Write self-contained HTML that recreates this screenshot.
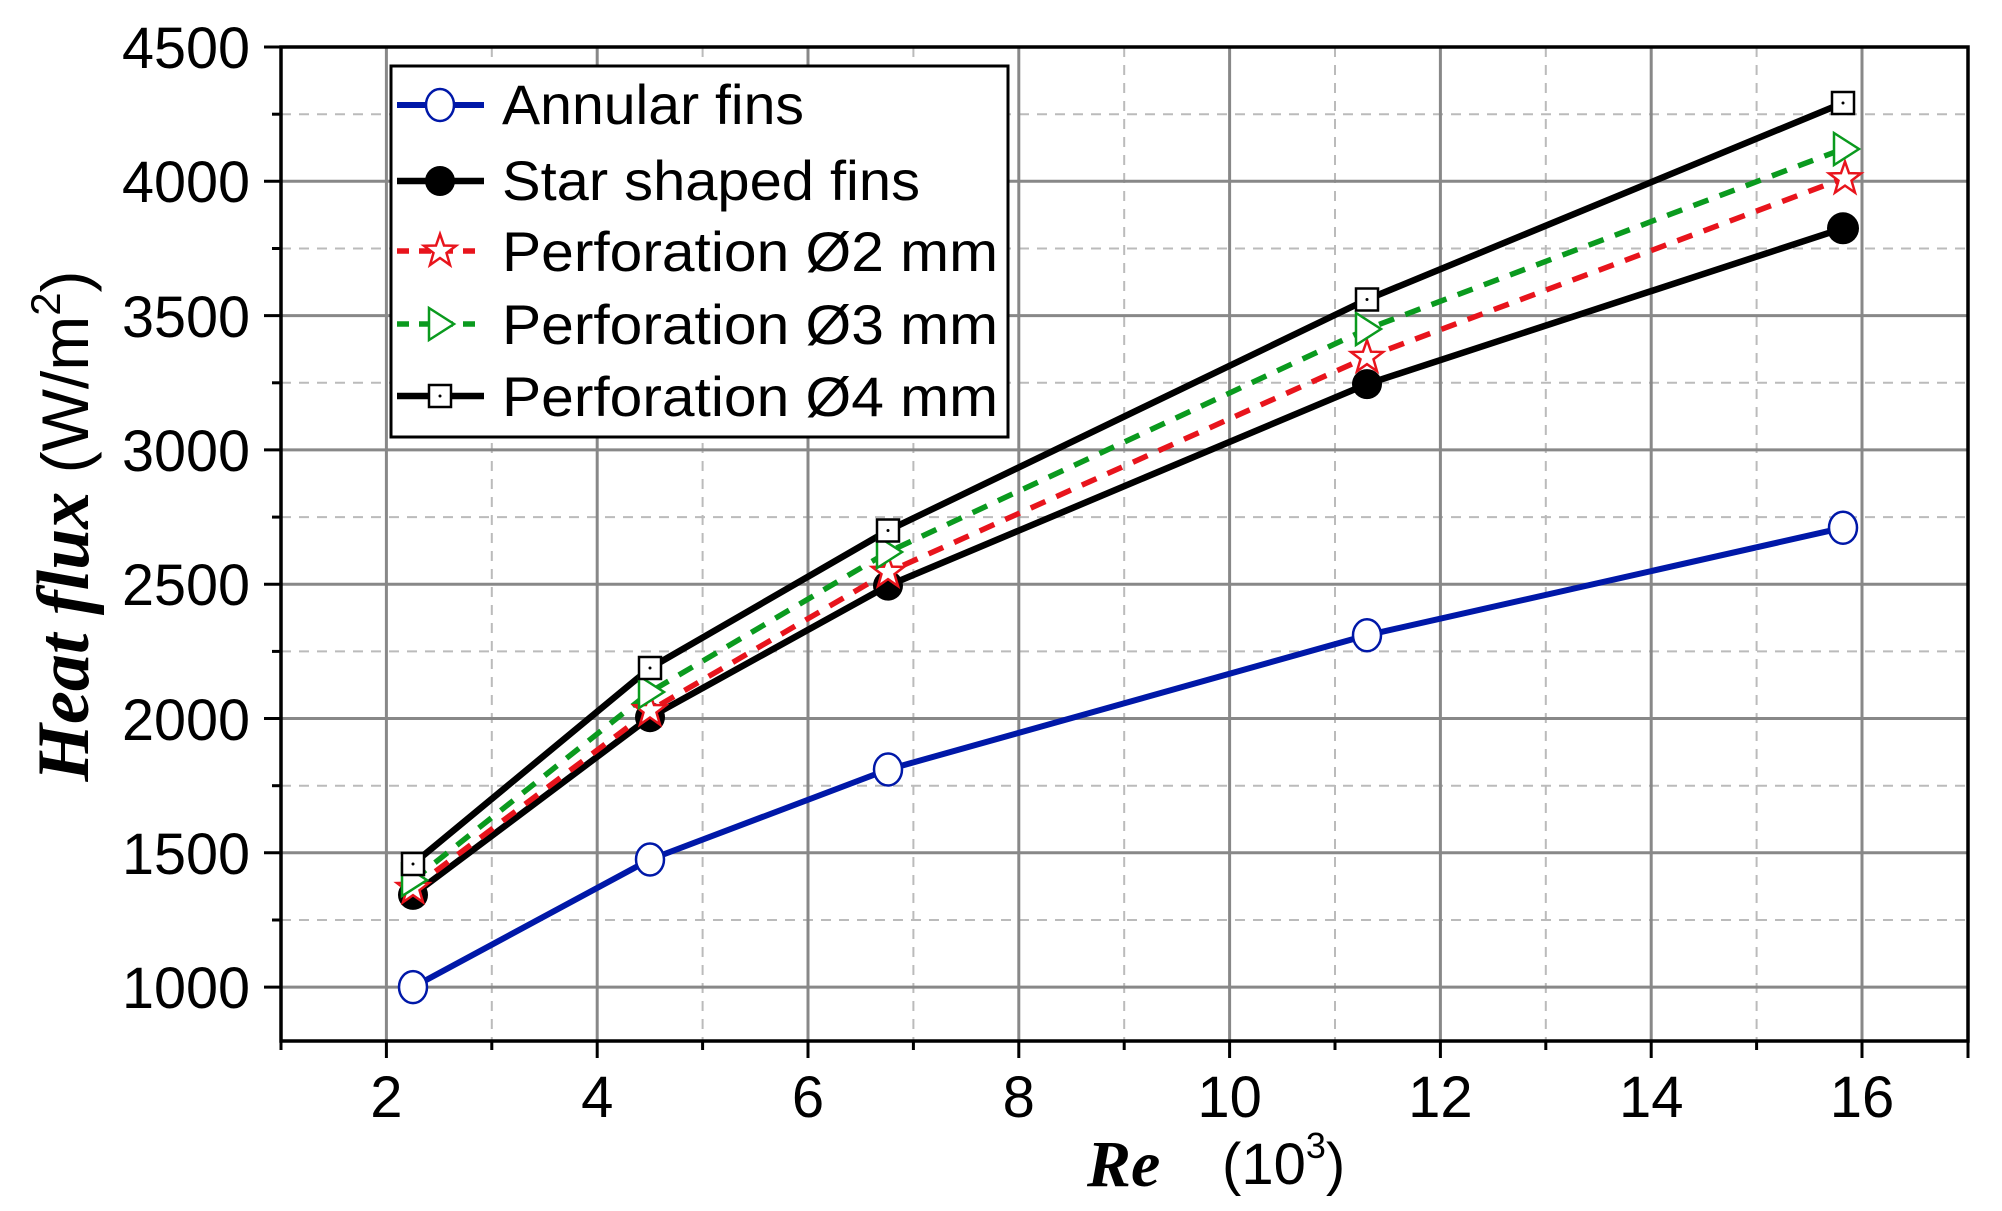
<!DOCTYPE html>
<html><head><meta charset="utf-8"><style>html,body{margin:0;padding:0;background:#fff}svg{display:block}</style></head><body>
<svg width="2002" height="1211" viewBox="0 0 2002 1211" xmlns="http://www.w3.org/2000/svg">
<defs><clipPath id="c"><rect x="281" y="47" width="1687" height="994"/></clipPath></defs>
<g id="grid">
<g stroke="#bbb" stroke-width="2" stroke-dasharray="10,8">
<line x1="491.8" y1="47" x2="491.8" y2="1041"/><line x1="702.6" y1="47" x2="702.6" y2="1041"/><line x1="913.4" y1="47" x2="913.4" y2="1041"/><line x1="1124.2" y1="47" x2="1124.2" y2="1041"/><line x1="1335" y1="47" x2="1335" y2="1041"/><line x1="1545.8" y1="47" x2="1545.8" y2="1041"/><line x1="1756.6" y1="47" x2="1756.6" y2="1041"/>
<line x1="281" y1="114.2" x2="1968" y2="114.2"/><line x1="281" y1="248.5" x2="1968" y2="248.5"/><line x1="281" y1="382.8" x2="1968" y2="382.8"/><line x1="281" y1="517.1" x2="1968" y2="517.1"/><line x1="281" y1="651.4" x2="1968" y2="651.4"/><line x1="281" y1="785.7" x2="1968" y2="785.7"/><line x1="281" y1="920" x2="1968" y2="920"/>
</g>
<g stroke="#888" stroke-width="3">
<line x1="386.4" y1="47" x2="386.4" y2="1041"/><line x1="597.2" y1="47" x2="597.2" y2="1041"/><line x1="808" y1="47" x2="808" y2="1041"/><line x1="1018.8" y1="47" x2="1018.8" y2="1041"/><line x1="1229.6" y1="47" x2="1229.6" y2="1041"/><line x1="1440.4" y1="47" x2="1440.4" y2="1041"/><line x1="1651.2" y1="47" x2="1651.2" y2="1041"/><line x1="1862" y1="47" x2="1862" y2="1041"/>
<line x1="281" y1="181.3" x2="1968" y2="181.3"/><line x1="281" y1="315.6" x2="1968" y2="315.6"/><line x1="281" y1="449.9" x2="1968" y2="449.9"/><line x1="281" y1="584.2" x2="1968" y2="584.2"/><line x1="281" y1="718.5" x2="1968" y2="718.5"/><line x1="281" y1="852.8" x2="1968" y2="852.8"/><line x1="281" y1="987.1" x2="1968" y2="987.1"/>
</g>
</g>
<rect x="281" y="47" width="1687" height="994" fill="none" stroke="#000" stroke-width="3.5"/>
<g stroke="#000" stroke-width="3">
<line x1="386.4" y1="1041" x2="386.4" y2="1058"/><line x1="597.2" y1="1041" x2="597.2" y2="1058"/><line x1="808" y1="1041" x2="808" y2="1058"/><line x1="1018.8" y1="1041" x2="1018.8" y2="1058"/><line x1="1229.6" y1="1041" x2="1229.6" y2="1058"/><line x1="1440.4" y1="1041" x2="1440.4" y2="1058"/><line x1="1651.2" y1="1041" x2="1651.2" y2="1058"/><line x1="1862" y1="1041" x2="1862" y2="1058"/><line x1="1968" y1="1041" x2="1968" y2="1058"/>
<line x1="491.8" y1="1041" x2="491.8" y2="1050"/><line x1="702.6" y1="1041" x2="702.6" y2="1050"/><line x1="913.4" y1="1041" x2="913.4" y2="1050"/><line x1="1124.2" y1="1041" x2="1124.2" y2="1050"/><line x1="1335" y1="1041" x2="1335" y2="1050"/><line x1="1545.8" y1="1041" x2="1545.8" y2="1050"/><line x1="1756.6" y1="1041" x2="1756.6" y2="1050"/><line x1="281" y1="1041" x2="281" y2="1050"/>
<line x1="264" y1="47" x2="281" y2="47"/><line x1="264" y1="181.3" x2="281" y2="181.3"/><line x1="264" y1="315.6" x2="281" y2="315.6"/><line x1="264" y1="449.9" x2="281" y2="449.9"/><line x1="264" y1="584.2" x2="281" y2="584.2"/><line x1="264" y1="718.5" x2="281" y2="718.5"/><line x1="264" y1="852.8" x2="281" y2="852.8"/><line x1="264" y1="987.1" x2="281" y2="987.1"/>
<line x1="272" y1="114.2" x2="281" y2="114.2"/><line x1="272" y1="248.5" x2="281" y2="248.5"/><line x1="272" y1="382.8" x2="281" y2="382.8"/><line x1="272" y1="517.1" x2="281" y2="517.1"/><line x1="272" y1="651.4" x2="281" y2="651.4"/><line x1="272" y1="785.7" x2="281" y2="785.7"/><line x1="272" y1="920" x2="281" y2="920"/>
</g>
<g font-family="Liberation Sans, sans-serif" font-size="58" fill="#000">
<text x="122" y="68" textLength="128" lengthAdjust="spacingAndGlyphs">4500</text><text x="122" y="202" textLength="128" lengthAdjust="spacingAndGlyphs">4000</text><text x="122" y="337" textLength="128" lengthAdjust="spacingAndGlyphs">3500</text><text x="122" y="471" textLength="128" lengthAdjust="spacingAndGlyphs">3000</text><text x="122" y="605" textLength="128" lengthAdjust="spacingAndGlyphs">2500</text><text x="122" y="740" textLength="128" lengthAdjust="spacingAndGlyphs">2000</text><text x="122" y="874" textLength="128" lengthAdjust="spacingAndGlyphs">1500</text><text x="122" y="1008" textLength="128" lengthAdjust="spacingAndGlyphs">1000</text>
</g>
<g font-family="Liberation Sans, sans-serif" font-size="58" fill="#000" text-anchor="middle">
<text x="386.4" y="1117">2</text><text x="597.2" y="1117">4</text><text x="808" y="1117">6</text><text x="1018.8" y="1117">8</text><text x="1229.6" y="1117">10</text><text x="1440.4" y="1117">12</text><text x="1651.2" y="1117">14</text><text x="1862" y="1117">16</text>
</g>
<text x="1087" y="1186" font-family="Liberation Serif, serif" font-weight="bold" font-style="italic" font-size="66">Re</text>
<text x="1222" y="1184" font-family="Liberation Sans, sans-serif" font-size="58">(10<tspan font-size="36" dy="-26">3</tspan><tspan dy="26">)</tspan></text>
<g transform="translate(88,526) rotate(-90)">
<text x="0" y="0" text-anchor="middle"><tspan font-family="Liberation Serif, serif" font-weight="bold" font-style="italic" font-size="74">Heat flux</tspan><tspan font-family="Liberation Sans, sans-serif" font-size="66"> (W/m<tspan font-size="42" dy="-28">2</tspan><tspan dy="28">)</tspan></tspan></text>
</g>
<g clip-path="url(#c)" fill="none" stroke-linejoin="round">
<polyline stroke="#0018a8" stroke-width="6" points="413,987.1 650,859.5 888,769.5 1367,635.2 1843,527.8"/>
<polyline stroke="#000" stroke-width="6.5" points="413,894.9 650,717.2 888,585.6 1367,384.1 1843,228.3"/>
<polyline stroke="#e8141c" stroke-width="5.5" stroke-dasharray="16,12" points="413,888.2 650,710.5 888,572.1 1367,357.2 1843,178.6"/>
<polyline stroke="#0a9a1e" stroke-width="5.5" stroke-dasharray="16,12" points="413,880.1 650,692 888,552 1367,329 1843,149"/>
<polyline stroke="#000" stroke-width="6.5" points="413,864 650,668 888,530.5 1367,299.5 1843,103"/>
</g>
<g fill="#fff" stroke="#0018a8" stroke-width="2.5">
<ellipse cx="413" cy="987.1" rx="14" ry="16"/><ellipse cx="650" cy="859.5" rx="14" ry="16"/><ellipse cx="888" cy="769.5" rx="14" ry="16"/><ellipse cx="1367" cy="635.2" rx="14" ry="16"/><ellipse cx="1843" cy="527.8" rx="14" ry="16"/>
</g>
<g fill="#000">
<circle cx="413" cy="894.9" r="15"/><circle cx="650" cy="717.2" r="15"/><circle cx="888" cy="585.6" r="15"/><circle cx="1367" cy="384.1" r="15"/><circle cx="1843" cy="228.3" r="16"/>
</g>
<defs>
<polygon id="star" points="0,-17 4,-5.5 16,-5.2 6.5,2 10,14 0,7 -10,14 -6.5,2 -16,-5.2 -4,-5.5" fill="#fff" stroke="#e8141c" stroke-width="2.5"/>
<polygon id="tri" points="-11,-16 14,0 -11,16" fill="#fff" stroke="#0a9a1e" stroke-width="2.5"/>
<g id="sq"><rect x="-11" y="-11" width="22" height="22" fill="#fff" stroke="#000" stroke-width="2.5"/><circle r="1.5" fill="#000"/></g>
</defs>
<use href="#star" x="413" y="888.2"/><use href="#star" x="650" y="710.5"/><use href="#star" x="888" y="572.1"/><use href="#star" x="1367" y="357.2"/><use href="#star" x="1845" y="178.6"/>
<use href="#tri" x="413" y="880.1"/><use href="#tri" x="650" y="692"/><use href="#tri" x="888" y="552"/><use href="#tri" x="1367" y="329"/><use href="#tri" x="1845" y="149"/>
<use href="#sq" x="413" y="864"/><use href="#sq" x="650" y="668"/><use href="#sq" x="888" y="530.5"/><use href="#sq" x="1367" y="299.5"/><use href="#sq" x="1843" y="103"/>
<rect x="391" y="66" width="617" height="371" fill="#fff" stroke="#000" stroke-width="3"/>
<line x1="397" y1="105" x2="484" y2="105" stroke="#0018a8" stroke-width="6"/><ellipse cx="440" cy="105" rx="14" ry="16" fill="#fff" stroke="#0018a8" stroke-width="2.5"/>
<line x1="397" y1="181" x2="484" y2="181" stroke="#000" stroke-width="6.5"/><circle cx="440" cy="181" r="15"/>
<line x1="397" y1="251" x2="484" y2="251" stroke="#e8141c" stroke-width="5.5" stroke-dasharray="12,10"/><use href="#star" x="440" y="251"/>
<line x1="397" y1="324" x2="484" y2="324" stroke="#0a9a1e" stroke-width="5.5" stroke-dasharray="12,10"/><use href="#tri" x="440" y="324"/>
<line x1="397" y1="396" x2="484" y2="396" stroke="#000" stroke-width="6.5"/><use href="#sq" x="440" y="396"/>
<g font-family="Liberation Sans, sans-serif" font-size="56" fill="#000">
<text x="502" y="124" textLength="302" lengthAdjust="spacingAndGlyphs">Annular fins</text>
<text x="502" y="200" textLength="418" lengthAdjust="spacingAndGlyphs">Star shaped fins</text>
<text x="502" y="271" textLength="496" lengthAdjust="spacingAndGlyphs">Perforation Ø2 mm</text>
<text x="502" y="344" textLength="496" lengthAdjust="spacingAndGlyphs">Perforation Ø3 mm</text>
<text x="502" y="416" textLength="496" lengthAdjust="spacingAndGlyphs">Perforation Ø4 mm</text>
</g>
</svg>
</body></html>
